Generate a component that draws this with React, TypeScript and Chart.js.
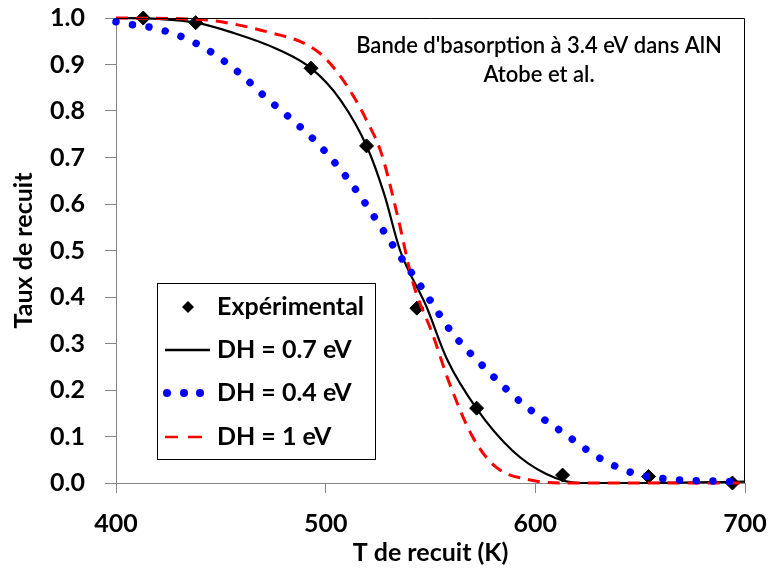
import React, { useEffect, useRef } from 'react';
import { Chart, registerables } from 'chart.js';

Chart.register(...registerables);

// ---- Data ----
const expT = [413, 438, 493, 519.5, 543.5, 572, 613, 654, 694];
const expY = [1.0, 0.99, 0.892, 0.725, 0.376, 0.161, 0.017, 0.014, 0.0];

const dh07T = [400, 420, 438, 456, 477, 493, 507, 520, 528, 535.5, 548, 558, 572, 589, 605, 621, 650, 700];
const dh07Y = [1.0, 0.998, 0.99, 0.968, 0.933, 0.892, 0.824, 0.72, 0.62, 0.5, 0.38, 0.265, 0.16, 0.07, 0.02, 0.0, 0.0, 0.003];

const dh04T = [400, 403, 418.6, 433.8, 447, 460, 471.7, 483.5, 495.6, 506, 515.6, 525, 533.7, 546.6, 560, 576, 593.6, 612.7, 632, 647, 662, 686, 700];
const dh04Y = [0.992, 0.989, 0.978, 0.955, 0.922, 0.877, 0.828, 0.783, 0.733, 0.68, 0.623, 0.56, 0.5, 0.415, 0.325, 0.247, 0.172, 0.11, 0.05, 0.021, 0.009, 0.004, 0.003];

const dh1T = [400, 440, 455, 475, 488, 497, 505.5, 513.5, 519.5, 526.5, 534, 541.7, 551, 559, 570, 581, 597, 615, 700];
const dh1Y = [1.0, 0.997, 0.988, 0.967, 0.949, 0.925, 0.884, 0.83, 0.78, 0.71, 0.58, 0.43, 0.32, 0.215, 0.1, 0.035, 0.007, 0.0, 0.0];

const xMin = 400;
const xMax = 700;
const xStep = 100;
const yMin = 0;
const yMax = 1;
const yStep = 0.1;

const titleLines = ["Bande d'basorption à 3.4 eV dans AlN", 'Atobe et al.'];
const legendLabels = ['Expérimental', 'DH = 0.7 eV', 'DH = 0.4 eV', 'DH = 1 eV'];
const xTitle = 'T de recuit (K)';
const yTitle = 'Taux de recuit';

const toPts = (xs: number[], ys: number[]) => xs.map((x, i) => ({ x, y: ys[i] }));

const FONT = 'Lato, "Open Sans", sans-serif';

const overlayPlugin = {
  id: 'overlay',
  afterDatasetsDraw(chart: any) {
    const { ctx, chartArea: a } = chart;
    ctx.save();
    // black top/right border of plot area
    ctx.strokeStyle = '#000';
    ctx.lineWidth = 1;
    ctx.beginPath();
    ctx.moveTo(a.left, Math.round(a.top) + 0.5);
    ctx.lineTo(Math.round(a.right) - 0.5, Math.round(a.top) + 0.5);
    ctx.lineTo(Math.round(a.right) - 0.5, a.bottom);
    ctx.stroke();

    // annotation text
    ctx.fillStyle = '#000';
    ctx.font = `600 22px ${FONT}`;
    ctx.textAlign = 'center';
    ctx.textBaseline = 'middle';
    const cx = a.right - 206;
    ctx.fillText(titleLines[0], cx, a.top + 28);
    ctx.fillText(titleLines[1], cx, a.top + 57);

    // legend
    const bx = Math.round(a.left + 41);
    const by = Math.round(a.top + 265);
    const bw = 218;
    const bh = 176;
    ctx.fillStyle = '#fff';
    ctx.fillRect(bx, by, bw, bh);
    ctx.strokeStyle = '#000';
    ctx.lineWidth = 1;
    ctx.strokeRect(bx + 0.5, by + 0.5, bw, bh);

    const rowY = [by + 24, by + 67, by + 110, by + 154];
    const sx0 = bx + 8;
    const sx1 = bx + 53;
    // 1: diamond
    ctx.fillStyle = '#000';
    ctx.beginPath();
    const dx = bx + 31;
    const r = 6;
    ctx.moveTo(dx, rowY[0] - r);
    ctx.lineTo(dx + r, rowY[0]);
    ctx.lineTo(dx, rowY[0] + r);
    ctx.lineTo(dx - r, rowY[0]);
    ctx.closePath();
    ctx.fill();
    // 2: black line
    ctx.strokeStyle = '#000';
    ctx.lineWidth = 2.5;
    ctx.beginPath();
    ctx.moveTo(sx0, rowY[1]);
    ctx.lineTo(sx1, rowY[1]);
    ctx.stroke();
    // 3: blue dots
    ctx.fillStyle = '#0000ff';
    [bx + 10, bx + 27, bx + 43].forEach((x) => {
      ctx.beginPath();
      ctx.arc(x, rowY[2], 4, 0, Math.PI * 2);
      ctx.fill();
    });
    // 4: red dashes
    ctx.strokeStyle = '#ff0000';
    ctx.lineWidth = 2.5;
    ctx.beginPath();
    ctx.moveTo(sx0, rowY[3]);
    ctx.lineTo(sx0 + 13, rowY[3]);
    ctx.moveTo(sx0 + 23, rowY[3]);
    ctx.lineTo(sx0 + 37, rowY[3]);
    ctx.stroke();

    ctx.fillStyle = '#000';
    ctx.font = `bold 25px ${FONT}`;
    ctx.textAlign = 'left';
    ctx.textBaseline = 'middle';
    legendLabels.forEach((t, i) => ctx.fillText(t, bx + 60, rowY[i]));
    ctx.restore();
  },
};

export default function App() {
  const ref = useRef<HTMLCanvasElement>(null);
  useEffect(() => {
    if (!ref.current) return;
    const chart = new Chart(ref.current, {
      type: 'line',
      data: {
        datasets: [
          {
            label: legendLabels[2],
            data: toPts(dh04T, dh04Y),
            borderColor: '#0000ff',
            borderWidth: 7.5,
            borderDash: [0.01, 16.7],
            borderCapStyle: 'round',
            pointRadius: 0,
            cubicInterpolationMode: 'monotone',
            fill: false,
            clip: false,
            order: 0,
          } as any,
          {
            label: legendLabels[3],
            data: toPts(dh1T, dh1Y),
            borderColor: '#ff0000',
            borderWidth: 3,
            borderDash: [12, 8],
            pointRadius: 0,
            cubicInterpolationMode: 'monotone',
            fill: false,
            clip: false,
            order: 1,
          } as any,
          {
            label: legendLabels[0],
            data: toPts(expT, expY),
            showLine: false,
            pointStyle: 'rectRot',
            pointRadius: 7,
            pointBackgroundColor: '#000',
            pointBorderColor: '#000',
            pointBorderWidth: 1,
            clip: false,
            order: 2,
          } as any,
          {
            label: legendLabels[1],
            data: toPts(dh07T, dh07Y),
            borderColor: '#000',
            borderWidth: 2.2,
            pointRadius: 0,
            cubicInterpolationMode: 'monotone',
            fill: false,
            clip: false,
            order: 3,
          } as any,
        ],
      },
      options: {
        animation: false,
        responsive: false,
        events: [],
        layout: { padding: { top: 18, right: 25, left: 0, bottom: 0 } },
        plugins: { legend: { display: false }, tooltip: { enabled: false } },
        scales: {
          x: {
            type: 'linear',
            min: xMin,
            max: xMax,
            ticks: {
              stepSize: xStep,
              padding: 16,
              color: '#000',
              font: { family: FONT, size: 25, weight: 'bold' },
              maxRotation: 0,
              callback: (v: any) => String(v),
            },
            grid: { drawOnChartArea: false, drawTicks: true, tickLength: 10, color: '#868686' },
            border: { color: '#868686' },
            title: {
              display: true,
              text: xTitle,
              color: '#000',
              font: { family: FONT, size: 25, weight: 'bold' },
              padding: { top: 0, bottom: 5 },
            },
            afterFit: (s: any) => {
              s.height = 90;
              s.paddingLeft = 0;
              s.paddingRight = 0;
            },
          },
          y: {
            type: 'linear',
            min: yMin,
            max: yMax,
            ticks: {
              stepSize: yStep,
              padding: 20,
              color: '#000',
              font: { family: FONT, size: 25, weight: 'bold' },
              callback: (v: any) => Number(v).toFixed(1),
            },
            grid: { drawOnChartArea: false, drawTicks: true, tickLength: 11, color: '#868686' },
            border: { color: '#868686' },
            title: {
              display: true,
              text: yTitle,
              color: '#000',
              font: { family: FONT, size: 25, weight: 'bold' },
              padding: { top: 9, bottom: 0 },
            },
            afterFit: (s: any) => {
              s.width = 116;
              s.paddingTop = 0;
              s.paddingBottom = 0;
            },
          },
        },
      },
      plugins: [overlayPlugin],
    } as any);
    return () => chart.destroy();
  }, []);
  return (
    <div style={{ position: 'fixed', left: 0, top: 0, width: 770, height: 573, background: '#fff' }}>
      <canvas ref={ref} width={770} height={573} style={{ display: 'block' }} />
    </div>
  );
}
